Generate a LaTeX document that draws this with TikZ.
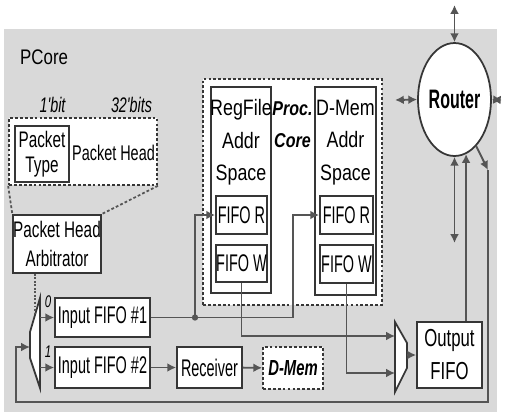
\documentclass[tikz,border=0pt]{standalone}
\usepackage{fontspec}
\setmainfont{Liberation Sans}
\newfontfamily\narrowsf{Liberation Sans}[FakeStretch=0.6]
\newfontfamily\midsf{Liberation Sans}[FakeStretch=0.68]
\newfontfamily\widesf{Liberation Sans}[FakeStretch=0.8]
\definecolor{panelgray}{HTML}{D9D9D9}
\definecolor{wiregray}{HTML}{555555}
\definecolor{edgegray}{HTML}{363636}
\usetikzlibrary{positioning,arrows.meta,shapes.geometric}

\begin{document}
\begin{tikzpicture}[
        x=0.02cm, y=-0.02cm,
        blk/.style={draw=edgegray, line width=1pt, fill=white, inner sep=0pt,
                    align=center, font=\narrowsf\fontsize{13.7}{18}\selectfont},
        dbox/.style={blk, dash pattern=on 1.6pt off 1.2pt},
        wire/.style={draw=wiregray, line width=1.1pt},
        arr/.style={wire, -{Latex[length=5pt,width=5pt]}},
        darr/.style={wire, {Latex[length=5pt,width=5pt]}-{Latex[length=5pt,width=5pt]}},
        zoomline/.style={draw=wiregray, line width=1pt, dash pattern=on 1.6pt off 1.2pt},
        mux/.style={draw=edgegray, line width=1pt, fill=white}
      ]
        \useasboundingbox (0,0) rectangle (505,414);
        \fill[panelgray] (4,29) rectangle (497,412);
        \node[anchor=base west, font=\widesf\fontsize{12}{14}\selectfont] (title) at (14,64) {PCore};

        \node[dbox, minimum width=2.96cm, minimum height=1.34cm] (pkt) at (83,151.5) {};
        \node[blk, minimum width=1.08cm, minimum height=1.12cm,
              font=\midsf\fontsize{12.8}{14.2}\selectfont] (ptype) at (42,154) {Packet\\Type};
        \node[font=\midsf\fontsize{12.1}{14}\selectfont] (phead) at (113.5,153) {Packet Head};
        \node[anchor=base, font=\midsf\itshape\fontsize{12}{14}\selectfont] (b1) at (52.5,112) {1'bit};
        \node[anchor=base, font=\midsf\itshape\fontsize{12}{14}\selectfont] (b32) at (131.5,112) {32'bits};
        \node[blk, minimum width=1.68cm, minimum height=1.16cm,
              font=\midsf\fontsize{12.8}{17}\selectfont] (arb) at (57,244) {Packet Head\\Arbitrator};
        \draw[zoomline] (pkt.south west) -- (arb.north west);
        \draw[zoomline] (pkt.south east) -- (arb.north east);

        \node[dbox, minimum width=3.58cm, minimum height=4.52cm] (proc) at (292.5,192) {};
        \node[blk, minimum width=1.2cm, minimum height=4.12cm] (rfspace) at (241,190) {};
        \node[align=center, font=\widesf\fontsize{12.7}{18.5}\selectfont] (rftext) at (241,142.5) {RegFile\\Addr\\Space};
        \node[blk, minimum width=1.02cm, minimum height=0.76cm] (rfR) at (241.5,215) {FIFO R};
        \node[blk, minimum width=1.02cm, minimum height=0.74cm] (rfW) at (241.5,263.5) {FIFO W};
        \node[blk, minimum width=1.22cm, minimum height=4.16cm] (dmspace) at (345.5,191) {};
        \node[align=center, font=\widesf\fontsize{12.7}{18.5}\selectfont] (dmtext) at (345.5,142.5) {D-Mem\\Addr\\Space};
        \node[blk, minimum width=1.06cm, minimum height=0.76cm] (dmR) at (346.5,215) {FIFO R};
        \node[blk, minimum width=1.06cm, minimum height=0.76cm] (dmW) at (346.5,264) {FIFO W};
        \node[align=center, font=\widesf\bfseries\itshape\fontsize{11.4}{18.5}\selectfont] (core) at (292.5,124.5) {Proc.\\Core};

        \node[blk, minimum width=1.9cm, minimum height=0.78cm] (in1) at (102.5,317.5) {Input FIFO \#1};
        \node[blk, minimum width=1.9cm, minimum height=0.82cm] (in2) at (102.5,367.5) {Input FIFO \#2};
        \node[blk, minimum width=1.3cm, minimum height=0.82cm] (recv) at (209.5,367.5) {Receiver};
        \node[dbox, minimum width=1.2cm, minimum height=0.84cm,
              font=\midsf\bfseries\itshape\fontsize{12.4}{14}\selectfont] (dmem) at (293,368) {D-Mem};
        \node[blk, minimum width=1.3cm, minimum height=1.32cm,
              font=\midsf\fontsize{14}{18.8}\selectfont] (ofifo) at (449.5,355) {Output\\FIFO};
        \node[ellipse, draw=edgegray, line width=1pt, fill=white, inner sep=0pt,
              minimum width=1.3cm, minimum height=2.26cm,
              font=\narrowsf\bfseries\fontsize{15.2}{18}\selectfont] (router) at (454.5,99.5) {Router};

        \draw[mux] (40,298) -- (30,332) -- (30,358) -- (40,388) -- cycle;
        \coordinate (imux0) at (40,317.5);
        \coordinate (imux1) at (40,367.5);
        \coordinate (imuxin) at (30,347);
        \coordinate (sel) at (35,314);
        \node[font=\midsf\itshape\fontsize{9.6}{11}\selectfont] (sel0) at (48,302) {0};
        \node[font=\midsf\itshape\fontsize{9.6}{11}\selectfont] (sel1) at (48,352) {1};
        \draw[mux] (395,322) -- (407,343) -- (407,368) -- (395,392) -- cycle;
        \coordinate (omux0) at (395,336);
        \coordinate (omux1) at (395,373);
        \coordinate (omuxout) at (407,355);

        \draw[zoomline, dash pattern=on 1pt off 1pt] (sel |- arb.south) -- (sel);
        \draw[arr] (imux0) -- (in1.west);
        \draw[arr] (imux1) -- (in2.west);
        \draw[arr] (in2) -- (recv);
        \draw[arr] (recv) -- (dmem);

        \coordinate (j1) at (195,317.5);
        \coordinate (j2) at (293,317.5);
        \draw[arr] (in1.east) -- (j2) |- (dmR.west);
        \draw[arr] (j1) |- (rfR.west);
        \fill[wiregray] (j1) circle (1.8pt);
        \draw[arr] (rfW.south) |- (omux0);
        \draw[arr] (dmW.south) |- (omux1);
        \draw[arr] (omuxout) -- (ofifo.west);

        \coordinate (rt) at (454.5,5);
        \coordinate (rl) at (395,100);
        \coordinate (rr) at (502,100);
        \coordinate (rb) at (454.5,243);
        \draw[darr] (router.north) -- (rt);
        \draw[darr] (router.west) -- (rl);
        \draw[darr] (router.east) -- (rr);
        \draw[darr] (router.south) -- (rb);
        \draw[arr] (router.-78 |- ofifo.north) -- (router.-78);

        \coordinate (turn) at (488,170);
        \coordinate (fb) at (16,402);
        \draw[arr] (router.-65) -- (turn);
        \draw[arr] (turn) |- (fb) |- (imuxin);
      \end{tikzpicture}
\end{document}
